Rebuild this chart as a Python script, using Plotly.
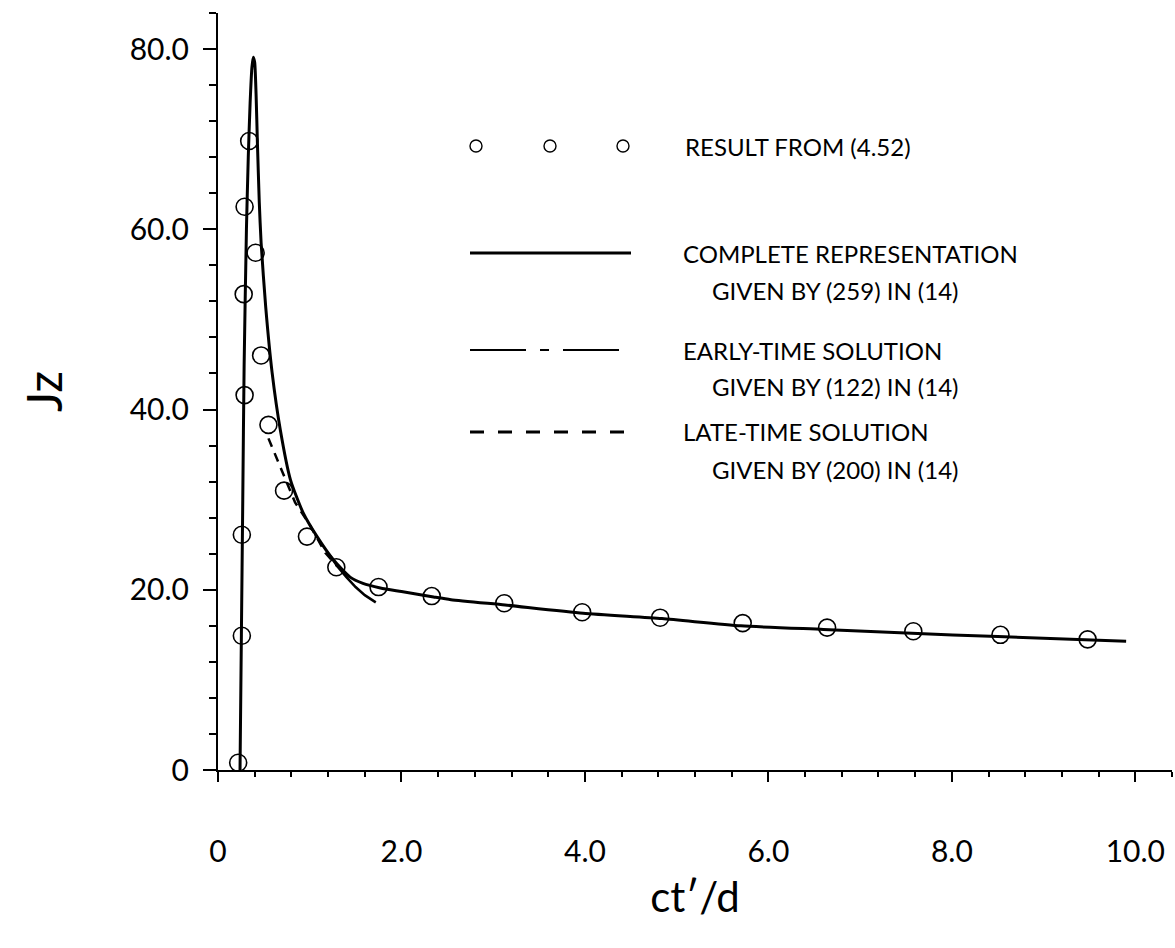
import plotly.graph_objects as go

# ---------------- data ----------------
complete_x = [0.240, 0.255, 0.270, 0.285, 0.310, 0.330, 0.350, 0.370, 0.385, 0.400, 0.415,
              0.430, 0.450, 0.470, 0.520, 0.590, 0.680, 0.790, 0.930, 1.080, 1.260, 1.440,
              1.580, 1.770, 2.000, 2.350, 2.540, 3.130, 3.980, 4.840, 5.700, 6.600, 7.500,
              8.500, 9.900]
complete_y = [0.0, 15.0, 30.0, 45.0, 60.0, 68.0, 74.0, 78.0, 79.1, 78.5, 75.0,
              69.5, 63.0, 58.5, 51.4, 44.1, 37.7, 32.2, 28.5, 25.9, 23.3, 21.4,
              20.7, 20.2, 19.8, 19.2, 18.9, 18.3, 17.4, 16.8, 16.0, 15.6, 15.2,
              14.8, 14.3]

early_x = [1.22, 1.30, 1.40, 1.50, 1.60, 1.72]
early_y = [23.8, 22.6, 21.4, 20.3, 19.4, 18.6]

late_x = [0.55, 0.66, 0.75, 0.84, 1.00, 1.17, 1.30]
late_y = [36.8, 34.1, 32.0, 29.7, 27.2, 24.1, 22.6]

result_x = [0.22, 0.26, 0.26, 0.29, 0.28, 0.29, 0.34, 0.41, 0.47, 0.55, 0.72, 0.97,
            1.29, 1.75, 2.33, 3.12, 3.97, 4.82, 5.72, 6.64, 7.58, 8.53, 9.48]
result_y = [0.8, 14.9, 26.1, 41.6, 52.8, 62.5, 69.8, 57.4, 46.0, 38.3, 31.0, 25.9,
            22.5, 20.3, 19.3, 18.5, 17.5, 16.9, 16.3, 15.8, 15.4, 15.0, 14.5]

x_tickvals = [0, 2, 4, 6, 8, 10]
x_ticktext = ["0", "2.0", "4.0", "6.0", "8.0", "10.0"]
y_tickvals = [0, 20, 40, 60, 80]
y_ticktext = ["0", "20.0", "40.0", "60.0", "80.0"]

legend_labels = [
    "RESULT FROM (4.52)",
    "COMPLETE REPRESENTATION",
    "GIVEN BY (259) IN (14)",
    "EARLY-TIME SOLUTION",
    "GIVEN BY (122) IN (14)",
    "LATE-TIME SOLUTION",
    "GIVEN BY (200) IN (14)",
]

# ---------------- layout geometry ----------------
W, H = 1175, 948
L, R, T, B = 218, 3, 13, 178
PW, PH = W - L - R, H - T - B
FONT = "Lato, Open Sans, sans-serif"


def px(xp):
    return (xp - L) / PW


def py(yp):
    return (H - B - yp) / PH


fig = go.Figure()

fig.add_trace(go.Scatter(x=complete_x, y=complete_y, mode="lines",
                         line=dict(color="black", width=3, shape="spline", smoothing=0.6),
                         showlegend=False))
fig.add_trace(go.Scatter(x=late_x, y=late_y, mode="lines",
                         line=dict(color="black", width=2.5, dash="9px,7px"),
                         showlegend=False))
fig.add_trace(go.Scatter(x=early_x, y=early_y, mode="lines",
                         line=dict(color="black", width=2.5),
                         showlegend=False))
fig.add_trace(go.Scatter(x=result_x, y=result_y, mode="markers",
                         marker=dict(symbol="circle-open", size=17,
                                     color="black", line=dict(width=1.6)),
                         showlegend=False))

shapes = []
# legend samples
for cx in [476, 550, 623]:
    shapes.append(dict(type="circle", xref="paper", yref="paper",
                       xsizemode="pixel", ysizemode="pixel",
                       xanchor=px(cx), yanchor=py(146),
                       x0=-6, x1=6, y0=-6, y1=6,
                       line=dict(color="black", width=1.4)))
shapes.append(dict(type="line", xref="paper", yref="paper",
                   x0=px(470), x1=px(631), y0=py(253), y1=py(253),
                   line=dict(color="black", width=3)))
shapes.append(dict(type="line", xref="paper", yref="paper",
                   x0=px(470), x1=px(631), y0=py(350), y1=py(350),
                   line=dict(color="black", width=2, dash="56px,14px,9px,14px")))
shapes.append(dict(type="line", xref="paper", yref="paper",
                   x0=px(470), x1=px(625), y0=py(432), y1=py(432),
                   line=dict(color="black", width=3, dash="14px,14px")))

ann = []
leg_pos = [(683, 146), (681, 253), (710, 290), (681, 350), (710, 387), (681, 432), (710, 469)]
for txt, (lx, ly) in zip(legend_labels, leg_pos):
    ann.append(dict(text=txt, xref="paper", yref="paper", x=px(lx), y=py(ly),
                    xanchor="left", yanchor="middle", showarrow=False,
                    font=dict(family=FONT, size=24, color="black")))

fig.update_layout(
    width=W, height=H,
    margin=dict(l=L, r=R, t=T, b=B),
    paper_bgcolor="white", plot_bgcolor="white",
    shapes=shapes, annotations=ann,
    font=dict(family=FONT, color="black"),
    showlegend=False,
)

fig.update_xaxes(
    range=[0, 10.4], showgrid=False, zeroline=False,
    showline=True, linecolor="black", linewidth=2,
    tickmode="array", tickvals=x_tickvals, ticktext=x_ticktext,
    ticks="outside", ticklen=10, tickwidth=2, tickcolor="black",
    minor=dict(dtick=0.4, tick0=0, ticks="outside", ticklen=5, tickwidth=1.5, tickcolor="black"),
    tickfont=dict(family=FONT, size=30, color="black"),
    ticklabelstandoff=44,
    title=dict(text="ct\u2032/d", font=dict(family=FONT, size=42, color="black"), standoff=16),
)
fig.update_yaxes(
    range=[0, 84], showgrid=False, zeroline=False,
    showline=True, linecolor="black", linewidth=2,
    tickmode="array", tickvals=y_tickvals, ticktext=y_ticktext,
    ticks="outside", ticklen=13, tickwidth=2, tickcolor="black",
    minor=dict(dtick=4, tick0=0, ticks="outside", ticklen=7, tickwidth=1.5, tickcolor="black"),
    tickfont=dict(family=FONT, size=30, color="black"),
    ticklabelstandoff=8,
    title=dict(text="Jz", font=dict(family=FONT, size=48, color="black"), standoff=52),
)

fig.write_html("out.html")
